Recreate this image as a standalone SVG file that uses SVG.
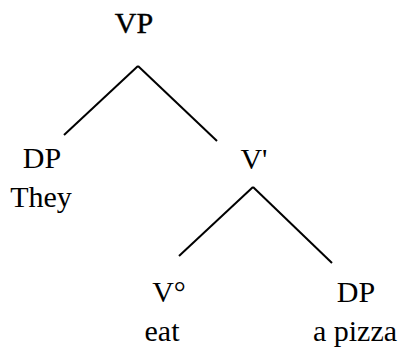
<svg xmlns="http://www.w3.org/2000/svg" width="402" height="351" viewBox="0 0 402 351">
  <style>
    text { font-family: "Liberation Serif", "Times New Roman", serif; font-size: 30px; fill: #000; text-anchor: middle; }
    .root { stroke: #000; stroke-width: 0.4; }
    .edge { stroke: #000; stroke-width: 2; fill: none; stroke-linecap: butt; }
  </style>
  <rect width="402" height="351" fill="#fff"/>
  <g id="connectors">
    <line class="edge" x1="138" y1="66" x2="64" y2="135"/>
    <line class="edge" x1="138" y1="66" x2="217" y2="141"/>
    <line class="edge" x1="253" y1="187" x2="179" y2="256"/>
    <line class="edge" x1="253" y1="187" x2="332" y2="263"/>
  </g>
  <g id="vp"><text class="root" x="134" y="33">VP</text></g>
  <g id="dp-they"><text x="42" y="168">DP</text><text x="41" y="207">They</text></g>
  <g id="vbar"><text x="254" y="169">V'</text></g>
  <g id="v-head"><text x="169" y="302">V°</text><text x="162" y="341">eat</text></g>
  <g id="dp-pizza"><text x="356" y="302">DP</text><text x="355" y="341">a pizza</text></g>
</svg>
